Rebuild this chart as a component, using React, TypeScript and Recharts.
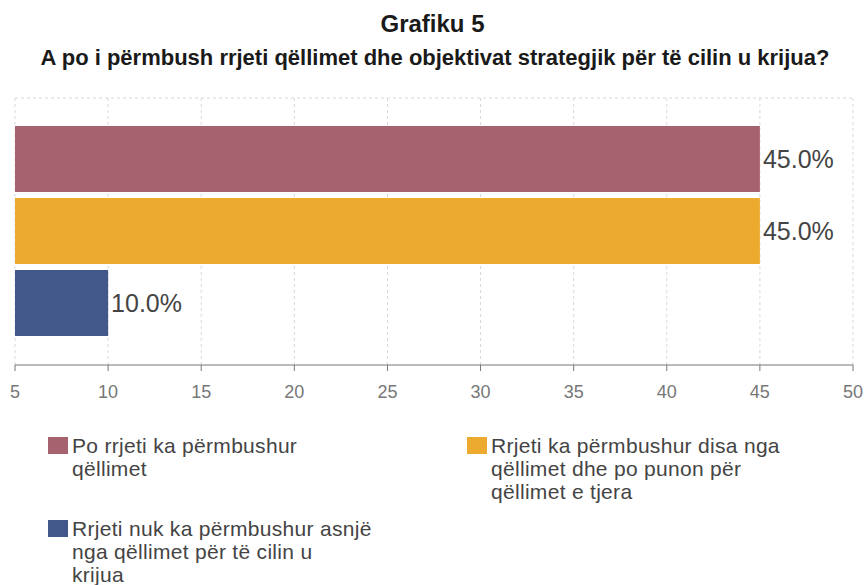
import React from 'react';
import { BarChart, Bar, XAxis, YAxis, CartesianGrid, LabelList } from 'recharts';

const title = 'Grafiku 5';
const subtitle = 'A po i përmbush rrjeti qëllimet dhe objektivat strategjik për të cilin u krijua?';
const categories = ['Pyetja'];
const seriesNames = [
  'Po rrjeti ka përmbushur qëllimet',
  'Rrjeti ka përmbushur disa nga qëllimet dhe po punon për qëllimet e tjera',
  'Rrjeti nuk ka përmbushur asnjë nga qëllimet për të cilin u krijua',
];
const legendLines = [
  ['Po rrjeti ka përmbushur', 'qëllimet'],
  ['Rrjeti ka përmbushur disa nga', 'qëllimet dhe po punon për', 'qëllimet e tjera'],
  ['Rrjeti nuk ka përmbushur asnjë', 'nga qëllimet për të cilin u', 'krijua'],
];
const seriesValues = [45, 45, 10];
const seriesColors = ['#a6626f', '#ecaa2f', '#43588a'];
const xTicks = [5, 10, 15, 20, 25, 30, 35, 40, 45, 50];

const data = categories.map((c) => {
  const row: Record<string, any> = { name: c };
  seriesValues.forEach((v, i) => {
    row['s' + i] = v;
  });
  return row;
});

const FONT = '"Liberation Sans", Arial, sans-serif';

const legendPos = [
  { left: 48, top: 434 },
  { left: 467, top: 434 },
  { left: 48, top: 517 },
];

export default function App() {
  return (
    <div
      style={{
        position: 'absolute',
        left: 0,
        top: 0,
        width: 865,
        height: 585,
        background: '#fff',
        fontFamily: FONT,
        overflow: 'hidden',
      }}
    >
      <div
        style={{
          position: 'absolute',
          left: 0,
          top: 12,
          width: 865,
          textAlign: 'center',
          fontSize: 24,
          lineHeight: '24px',
          fontWeight: 'bold',
          color: '#1a1a1a',
        }}
      >
        {title}
      </div>
      <div
        style={{
          position: 'absolute',
          left: 0,
          top: 47,
          width: 870,
          textAlign: 'center',
          fontSize: 22,
          lineHeight: '22px',
          fontWeight: 'bold',
          color: '#1a1a1a',
          whiteSpace: 'nowrap',
        }}
      >
        {subtitle}
      </div>
      <div style={{ position: 'absolute', left: 0, top: 0 }}>
        <BarChart
          width={865}
          height={420}
          data={data}
          layout="vertical"
          margin={{ top: 98, right: 12, left: 15, bottom: 15 }}
          barCategoryGap={28}
          barGap={6}
        >
          <CartesianGrid
            stroke="#d8d8d8"
            strokeDasharray="3 3"
            vertical={true}
            horizontal={true}
            horizontalPoints={[98]}
          />
          <XAxis
            type="number"
            domain={[5, 50]}
            ticks={xTicks}
            interval={0}
            allowDataOverflow={true}
            axisLine={{ stroke: '#777' }}
            tickLine={{ stroke: '#777' }}
            tickSize={6}
            tickMargin={14}
            height={40}
            tick={{ fontSize: 18, fill: '#777', fontFamily: FONT }}
          />
          <YAxis
            type="category"
            dataKey="name"
            width={0}
            tick={false}
            tickLine={false}
            axisLine={{ stroke: '#777' }}
          />
          {seriesNames.map((n, i) => (
            <Bar
              key={n}
              dataKey={'s' + i}
              name={n}
              fill={seriesColors[i]}
              isAnimationActive={false}
            >
              <LabelList
                dataKey={'s' + i}
                position="right"
                offset={3}
                fill="#444"
                fontSize={25}
                fontFamily={FONT}
                formatter={(v: any) => Number(v).toFixed(1) + '%'}
              />
            </Bar>
          ))}
        </BarChart>
      </div>
      {seriesNames.map((n, i) => (
        <div
          key={n}
          style={{
            position: 'absolute',
            left: legendPos[i].left,
            top: legendPos[i].top,
            display: 'flex',
            alignItems: 'flex-start',
          }}
        >
          <div
            style={{
              width: 20,
              height: 17,
              marginTop: 3,
              background: seriesColors[i],
              flex: 'none',
            }}
          />
          <div
            style={{
              marginLeft: 4,
              fontSize: 21,
              letterSpacing: 0.3,
              lineHeight: '23px',
              color: '#444',
              whiteSpace: 'nowrap',
            }}
          >
            {legendLines[i].map((l, j) => (
              <div key={j}>{l}</div>
            ))}
          </div>
        </div>
      ))}
    </div>
  );
}
